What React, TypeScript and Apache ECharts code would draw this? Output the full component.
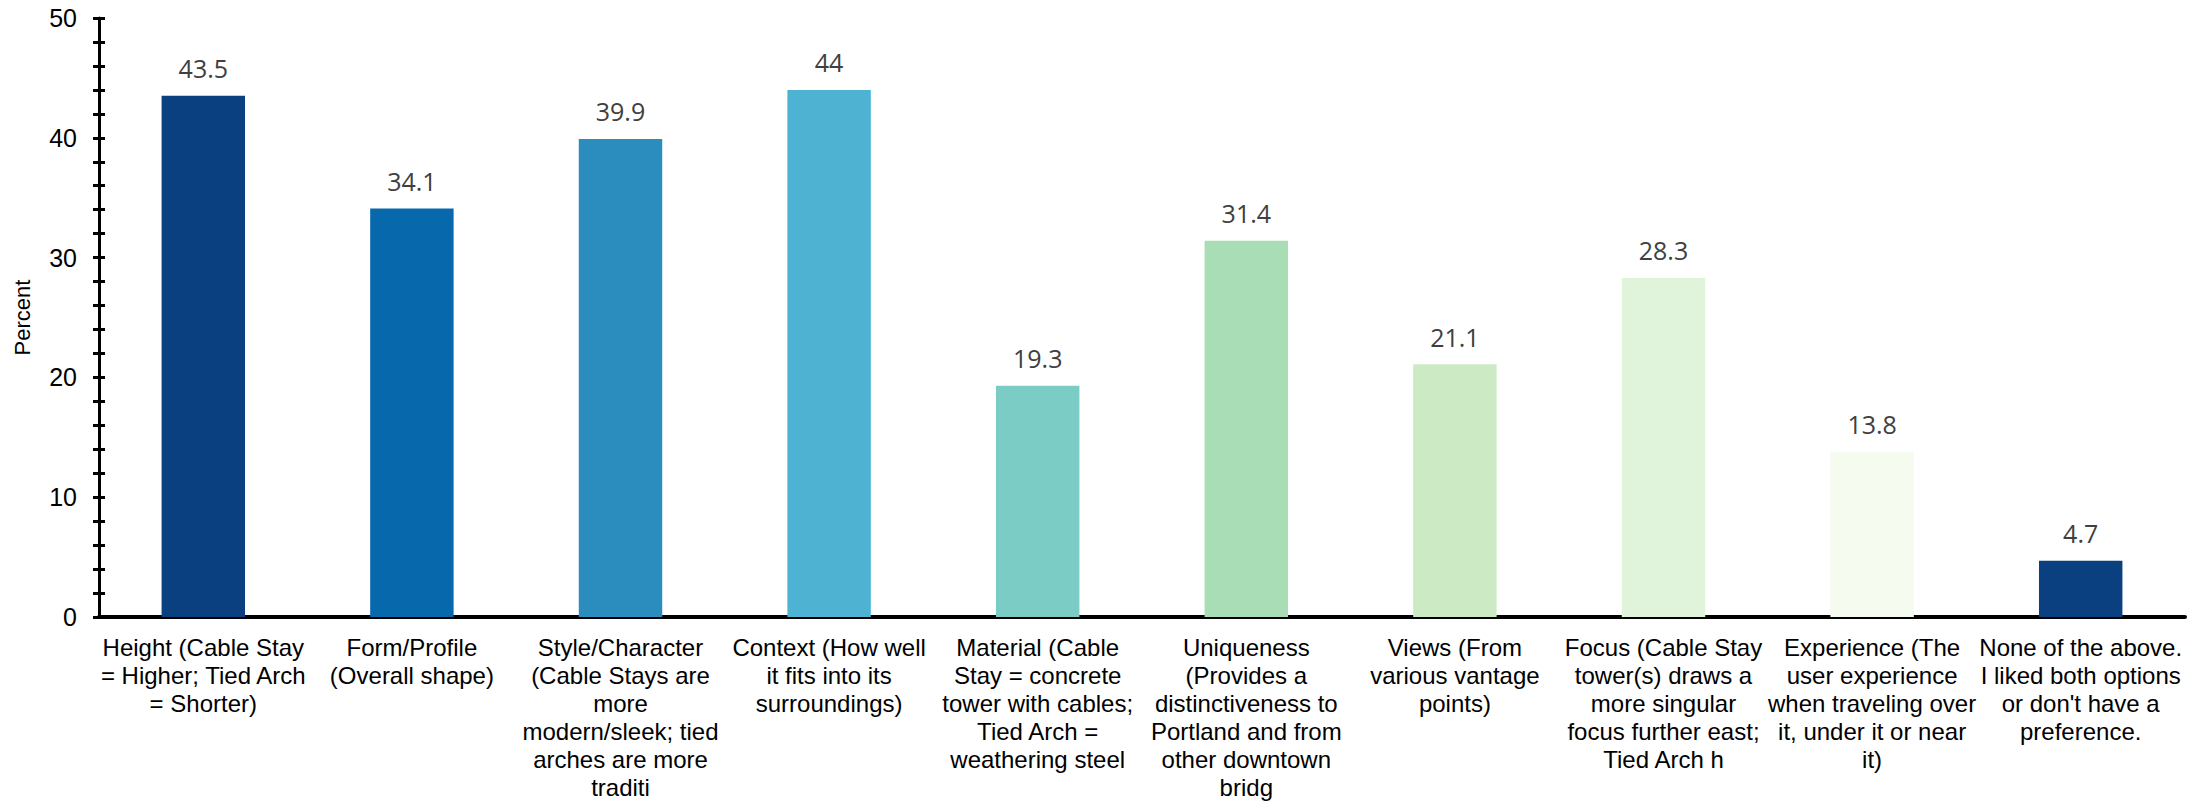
import React, { useEffect, useRef } from "react";
import * as echarts from "echarts";

const categories: string[] = [
  "Height (Cable Stay\n= Higher; Tied Arch\n= Shorter)",
  "Form/Profile\n(Overall shape)",
  "Style/Character\n(Cable Stays are\nmore\nmodern/sleek; tied\narches are more\ntraditi",
  "Context (How well\nit fits into its\nsurroundings)",
  "Material (Cable\nStay = concrete\ntower with cables;\nTied Arch =\nweathering steel",
  "Uniqueness\n(Provides a\ndistinctiveness to\nPortland and from\nother downtown\nbridg",
  "Views (From\nvarious vantage\npoints)",
  "Focus (Cable Stay\ntower(s) draws a\nmore singular\nfocus further east;\nTied Arch h",
  "Experience (The\nuser experience\nwhen traveling over\nit, under it or near\nit)",
  "None of the above.\nI liked both options\nor don't have a\npreference.",
];

const values: number[] = [43.5, 34.1, 39.9, 44, 19.3, 31.4, 21.1, 28.3, 13.8, 4.7];

const barColors: string[] = [
  "#0a3f80",
  "#0868ac",
  "#2b8cbe",
  "#4eb3d3",
  "#7bccc4",
  "#a8ddb5",
  "#ccebc5",
  "#e0f3db",
  "#f5fbef",
  "#0a3f80",
];

const yTicks = { min: 0, max: 50, interval: 10 };

export default function App() {
  const ref = useRef<HTMLDivElement>(null);
  useEffect(() => {
    if (!ref.current) return;
    const chart = echarts.init(ref.current, undefined, { renderer: "svg" });
    const axisBase = {
      type: "value" as const,
      min: yTicks.min,
      max: yTicks.max,
      interval: yTicks.interval,
      position: "left" as const,
      splitLine: { show: false },
    };
    chart.setOption({
      animation: false,
      grid: { left: 99, right: 12, top: 18, bottom: 178, containLabel: false },
      xAxis: {
        type: "category",
        data: categories,
        axisLine: { show: true, lineStyle: { color: "#000", width: 4 } },
        axisTick: { show: false },
        axisLabel: {
          interval: 0,
          margin: 16,
          color: "#000",
          fontSize: 24,
          lineHeight: 28,
          fontFamily: "'Liberation Sans', Arial, sans-serif",
          align: "center",
        },
      },
      yAxis: [
        {
          ...axisBase,
          name: "Percent",
          nameLocation: "middle",
          nameGap: 66,
          nameTextStyle: { color: "#000", fontSize: 22, fontFamily: "'Liberation Sans', Arial, sans-serif" },
          axisLine: { show: true, lineStyle: { color: "#000", width: 3 } },
          axisTick: { show: true, length: 6, inside: false, lineStyle: { color: "#000", width: 3 } },
          minorTick: { show: true, splitNumber: 5, length: 6, lineStyle: { color: "#000", width: 3 } },
          axisLabel: {
            color: "#000",
            fontSize: 25,
            margin: 22,
            fontFamily: "'Liberation Sans', Arial, sans-serif",
          },
        },
        {
          ...axisBase,
          axisLine: { show: false },
          axisTick: { show: true, length: 6, inside: true, lineStyle: { color: "#000", width: 3 } },
          minorTick: { show: true, splitNumber: 5, length: 6, lineStyle: { color: "#000", width: 3 } },
          axisLabel: { show: false },
        },
      ],
      series: [
        {
          type: "bar",
          yAxisIndex: 0,
          barWidth: "40%",
          data: values.map((v, i) => ({ value: v, itemStyle: { color: barColors[i] } })),
          label: {
            show: true,
            position: "top",
            distance: 15,
            color: "#404040",
            fontSize: 25,
            fontFamily: "'Open Sans', 'Noto Sans', sans-serif",
          },
        },
      ],
    });
    return () => chart.dispose();
  }, []);
  return (
    <div
      ref={ref}
      style={{ position: "fixed", left: 0, top: 0, width: 2197, height: 801, background: "#fff" }}
    />
  );
}
